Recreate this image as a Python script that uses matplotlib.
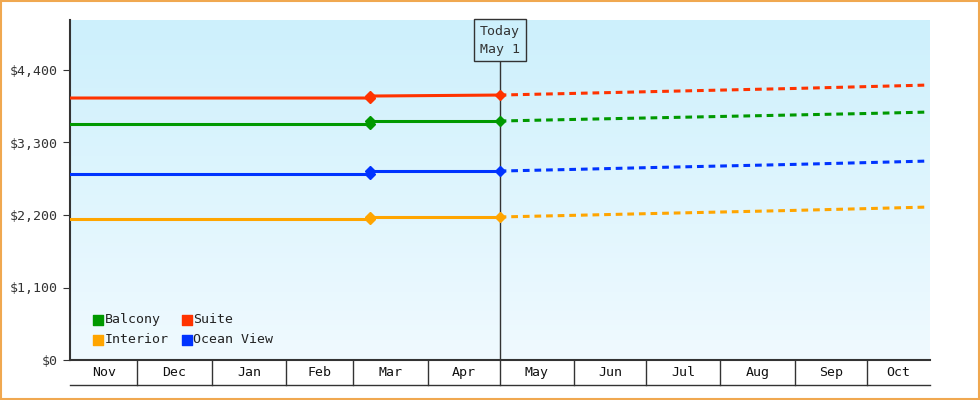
import matplotlib
matplotlib.use("Agg")
import matplotlib.pyplot as plt
import numpy as np
from matplotlib.patches import Rectangle
from matplotlib.colors import LinearSegmentedColormap

plt.rcParams['font.family'] = ['DejaVu Sans Mono']

series = ["Balcony", "Suite", "Interior", "Ocean View"]
colors = {"Balcony": "#009900", "Suite": "#ff3300", "Interior": "#ffa500", "Ocean View": "#0033ff"}
# days since Nov 1
past_x = [2, 127, 127, 181]
past_vals = {
    "Suite": [3975, 3975, 4005, 4020],
    "Balcony": [3580, 3580, 3626, 3626],
    "Ocean View": [2822, 2822, 2867, 2867],
    "Interior": [2139, 2139, 2170, 2170],
}
fut_x = [181, 212, 242, 273, 304, 334, 360]
fut_vals = {
    "Suite": [4020, 4045, 4070, 4095, 4120, 4148, 4172],
    "Balcony": [3626, 3650, 3672, 3695, 3718, 3740, 3762],
    "Ocean View": [2867, 2892, 2918, 2943, 2968, 2995, 3019],
    "Interior": [2170, 2195, 2220, 2245, 2270, 2297, 2321],
}
months = ["Nov", "Dec", "Jan", "Feb", "Mar", "Apr", "May", "Jun", "Jul", "Aug", "Sep", "Oct"]
month_starts = [0, 30, 61, 92, 120, 151, 181, 212, 242, 273, 304, 334, 365]
yticks = [0, 1100, 2200, 3300, 4400]
XL, XR = 1.9, 360.4
YT = 4400 * 340 / 290

fig = plt.figure(figsize=(9.8, 4.0), dpi=100)
fig.patches.append(Rectangle((0.001, 0.002), 0.998, 0.996, transform=fig.transFigure,
                             fill=False, edgecolor="#f0a850", lw=1.5))
ax = fig.add_axes([70/980, 40/400, 860/980, 340/400])
ax.set_xlim(XL, XR)
ax.set_ylim(0, YT)
grad = np.linspace(0, 1, 256).reshape(-1, 1)
cm = LinearSegmentedColormap.from_list("g", ["#f0faff", "#cdf0fc"])
ax.imshow(grad, extent=[XL, XR, 0, YT], origin="lower", aspect="auto", cmap=cm, zorder=0)

for s in ["Suite", "Balcony", "Ocean View", "Interior"]:
    c = colors[s]
    ax.plot(past_x, past_vals[s], color=c, lw=2.2, marker="D", markersize=5,
            markevery=[1, 2, 3], zorder=3)
    ax.plot(fut_x, fut_vals[s], color=c, lw=2.2, ls=(0, (2.2, 1.6)), zorder=3)

ax.axvline(181, color="#333333", lw=1, zorder=2)
ax.text(181, YT - 20 * 4400 / 290, "Today\nMay 1", ha="center", va="center", fontsize=9.5,
        linespacing=1.5, color="#333333",
        bbox=dict(boxstyle="square,pad=0.45", fc="#cdf0fc", ec="#333333", lw=1), zorder=5)

for sp in ["top", "right", "bottom"]:
    ax.spines[sp].set_visible(False)
ax.spines["left"].set_color("#333333")
ax.spines["left"].set_linewidth(1.5)
ax.set_yticks(yticks)
ax.set_yticklabels(["$" + format(v, ",") for v in yticks], fontsize=9.5, color="#333333")
ax.tick_params(axis="y", length=5, color="#333333")
ax.set_xticks([])

trans = ax.get_xaxis_transform()
h = 25 / 340
ax.plot([XL, XR], [0, 0], transform=trans, color="#333333", lw=1.5, clip_on=False)
ax.plot([XL, XR], [-h, -h], transform=trans, color="#333333", lw=1, clip_on=False)
for i, m in enumerate(months):
    a = max(month_starts[i], XL)
    b = min(month_starts[i + 1], XR)
    if i > 0:
        ax.plot([a, a], [0, -h], transform=trans, color="#333333", lw=1, clip_on=False)
    ax.text((a + b) / 2, -h / 2, m, transform=trans, ha="center", va="center", fontsize=9.5, color="#111111")

leg_items = [("Balcony", 0.033, 0.118), ("Suite", 0.136, 0.118), ("Interior", 0.033, 0.059), ("Ocean View", 0.136, 0.059)]
for s, lx, ly in leg_items:
    ax.scatter([lx], [ly], transform=ax.transAxes, marker="s", s=60, color=colors[s], zorder=6)
    ax.text(lx + 0.007, ly, s, transform=ax.transAxes, va="center", fontsize=9.5, color="#222222", zorder=6)

fig.savefig("out.png", dpi=100)
